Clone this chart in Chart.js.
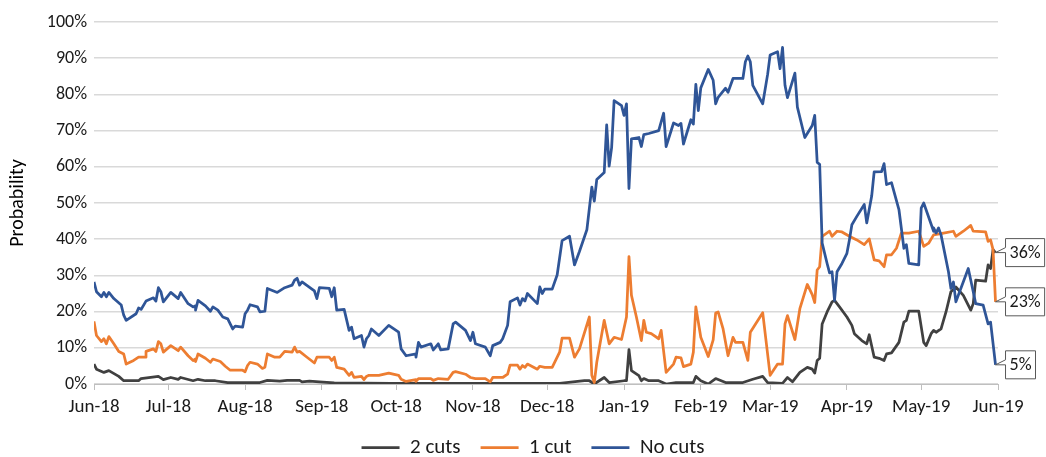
<!DOCTYPE html>
<html>
<head>
<meta charset="utf-8">
<script src="https://cdn.jsdelivr.net/npm/chart.js@4.4.1/dist/chart.umd.min.js"></script>
<style>
  html, body { margin: 0; padding: 0; background: #fff; }
  #wrap { width: 1046px; height: 457px; }
</style>
</head>
<body>
<div id="wrap"><canvas id="probChart"></canvas></div>
<script>
// x values are days counted from 1 Jun 2018
const monthDays = [0, 30, 61, 92, 122, 153, 183, 214, 245, 273, 304, 334, 365];
const monthLabels = ["Jun-18", "Jul-18", "Aug-18", "Sep-18", "Oct-18", "Nov-18", "Dec-18",
                     "Jan-19", "Feb-19", "Mar-19", "Apr-19", "May-19", "Jun-19"];
const yTicks = [0, 10, 20, 30, 40, 50, 60, 70, 80, 90, 100];

// 2 cuts
const twoCutsDays = [0, 1, 4, 6, 10, 12, 18, 19, 26, 28, 31, 34, 35, 40, 42, 45, 49, 54, 67, 70,
  75, 78, 83, 84, 87, 91, 97, 120, 150, 188, 198, 200, 202, 206, 208, 214, 215, 216, 217, 220,
  221, 222, 224, 228, 231, 235, 242, 243, 245, 248, 251, 255, 262, 266, 270, 272, 278, 280, 282, 285,
  288, 290, 291, 292, 293, 294, 296, 298, 299, 301, 304, 306, 307, 310, 312, 313, 315, 317, 319, 320,
  322, 325, 327, 328, 329, 333, 335, 336, 338, 339, 340, 342, 344, 346, 348, 351, 354, 355, 356, 360,
  361, 362, 363, 364];
const twoCutsValues = [5.5, 4.1, 3.2, 3.7, 2.1, 0.9, 0.9, 1.5, 2.1, 1.2, 1.8, 1.3, 1.8, 0.9, 1.3, 0.9, 0.9, 0.4, 0.4, 1.0,
  0.8, 1.0, 1.0, 0.6, 0.8, 0.6, 0.3, 0.2, 0.2, 0.2, 0.9, 0.9, 0.0, 1.8, 0.4, 0.9, 0.9, 9.5, 3.7, 2.3,
  0.9, 1.5, 0.9, 0.9, 0.0, 0.4, 0.4, 2.1, 0.9, 0.0, 1.5, 0.4, 0.4, 1.3, 2.1, 0.4, 0.2, 1.8, 0.6, 3.2,
  4.6, 4.1, 3.0, 6.5, 7.1, 16.6, 19.9, 22.7, 23.1, 21.3, 18.5, 16.2, 13.9, 12.0, 11.1, 13.6, 7.4, 7.1, 6.5, 8.3,
  8.6, 11.5, 17.1, 17.6, 20.1, 20.1, 11.5, 10.6, 13.9, 14.8, 14.3, 15.2, 19.9, 25.5, 26.8, 24.5, 20.4, 22.2, 28.7, 28.4,
  32.9, 31.9, 37.1, 36.3];

// 1 cut
const oneCutDays = [0, 1, 3, 4, 5, 6, 8, 10, 12, 13, 16, 18, 21, 21, 24, 25, 26, 27, 28, 31,
  34, 35, 38, 40, 41, 41, 42, 45, 47, 48, 51, 53, 55, 60, 61, 62, 63, 66, 68, 69,
  70, 73, 75, 77, 80, 81, 82, 83, 86, 89, 90, 95, 96, 97, 98, 101, 103, 104, 105, 108,
  109, 110, 111, 115, 119, 123, 124, 126, 130, 130, 131, 136, 137, 139, 143, 145, 146, 150, 152, 154,
  158, 160, 161, 165, 167, 168, 171, 172, 173, 174, 175, 179, 180, 182, 185, 188, 189, 192, 194, 196,
  200, 201, 202, 203, 206, 208, 210, 213, 215, 216, 217, 219, 221, 222, 223, 225, 228, 229, 231, 234,
  235, 237, 238, 241, 242, 243, 245, 248, 250, 251, 252, 254, 256, 258, 259, 262, 264, 265, 270, 273,
  276, 278, 279, 280, 283, 285, 288, 290, 291, 292, 293, 294, 297, 298, 300, 302, 305, 308, 311, 313,
  315, 317, 319, 320, 322, 324, 326, 329, 333, 335, 337, 339, 343, 347, 348, 351, 354, 355, 360, 361,
  362, 363, 364];
const oneCutValues = [17.3, 13.4, 11.7, 12.5, 11.1, 13.1, 11.1, 9.0, 8.3, 5.5, 6.5, 7.4, 7.4, 9.0, 9.7, 9.0, 11.7, 11.1, 8.8, 10.6,
  9.2, 10.2, 7.8, 6.5, 6.9, 6.2, 8.3, 7.1, 6.0, 6.9, 6.2, 4.9, 3.8, 3.8, 3.4, 5.1, 6.0, 5.5, 4.3, 4.6,
  8.3, 7.4, 7.4, 9.0, 8.8, 10.2, 8.8, 9.0, 7.4, 5.8, 7.4, 7.4, 6.5, 7.4, 4.6, 4.1, 2.4, 3.2, 1.8, 2.1,
  1.2, 2.1, 2.4, 2.4, 3.0, 2.4, 1.3, 0.7, 1.2, 0.7, 1.5, 1.5, 1.0, 1.5, 1.3, 3.2, 3.4, 2.7, 1.8, 1.5,
  1.5, 0.6, 1.8, 1.8, 2.7, 5.2, 5.2, 4.1, 5.1, 4.6, 5.5, 4.1, 4.9, 4.6, 4.6, 8.8, 12.7, 12.7, 7.4, 9.7,
  18.5, 2.4, 0.4, 6.0, 17.6, 11.1, 12.9, 12.3, 18.5, 35.2, 24.5, 18.5, 12.0, 17.6, 14.3, 13.9, 12.5, 14.8, 3.2, 5.5,
  7.4, 7.2, 4.8, 5.5, 8.8, 21.3, 12.9, 7.6, 12.2, 19.6, 19.9, 15.2, 7.8, 12.9, 11.5, 11.5, 6.5, 14.3, 19.7, 2.4,
  5.5, 5.5, 16.6, 18.9, 12.3, 20.8, 27.5, 24.7, 22.5, 31.5, 32.4, 40.8, 42.2, 40.8, 42.2, 42.0, 40.8, 39.8, 38.5, 40.1,
  34.3, 34.0, 32.4, 35.7, 35.7, 37.5, 41.7, 41.7, 42.2, 38.0, 38.9, 41.2, 41.7, 42.2, 40.8, 42.2, 43.8, 42.2, 42.0, 39.4,
  39.8, 37.1, 22.7];

// No cuts
const noCutsDays = [0, 1, 3, 4, 5, 6, 8, 11, 12, 13, 17, 18, 19, 21, 24, 25, 26, 27, 28, 31,
  34, 35, 38, 40, 41, 41, 42, 45, 47, 48, 50, 52, 54, 56, 57, 60, 61, 62, 63, 66,
  67, 69, 70, 74, 77, 80, 81, 82, 83, 84, 88, 89, 90, 91, 95, 96, 97, 98, 101, 103,
  104, 105, 108, 109, 110, 111, 112, 115, 119, 123, 124, 126, 130, 130, 131, 132, 136, 137, 139, 140,
  143, 145, 146, 150, 152, 153, 154, 158, 160, 161, 164, 165, 167, 168, 171, 172, 173, 174, 175, 179,
  180, 181, 182, 185, 187, 189, 192, 194, 196, 199, 201, 202, 203, 206, 207, 208, 209, 210, 213, 214,
  215, 216, 217, 220, 221, 222, 224, 228, 230, 231, 234, 236, 237, 238, 241, 242, 243, 244, 245, 248,
  250, 251, 252, 255, 256, 258, 262, 263, 264, 265, 266, 270, 272, 273, 276, 277, 278, 279, 280, 283,
  284, 287, 290, 291, 292, 293, 294, 296, 297, 298, 299, 300, 302, 304, 305, 306, 308, 311, 312, 314,
  315, 318, 319, 320, 322, 325, 327, 328, 329, 333, 334, 335, 339, 339, 340, 341, 342, 345, 346, 347,
  348, 353, 355, 356, 359, 361, 362, 364];
const noCutsValues = [28.2, 25.5, 24.1, 25.3, 24.1, 25.3, 23.6, 21.8, 19.0, 17.6, 19.4, 21.0, 20.6, 22.9, 23.8, 22.9, 26.6, 25.5, 22.7, 25.3,
  23.6, 25.3, 22.2, 21.3, 21.6, 20.4, 23.1, 21.6, 20.1, 21.3, 20.4, 18.5, 18.0, 15.2, 16.0, 15.7, 19.4, 20.4, 21.9, 21.3,
  19.9, 20.1, 26.4, 25.3, 26.6, 27.3, 28.7, 29.2, 27.3, 28.2, 26.2, 25.7, 23.6, 26.6, 26.4, 24.1, 26.6, 20.4, 20.6, 14.8,
  15.7, 12.5, 13.4, 10.2, 12.5, 13.4, 15.2, 13.4, 16.2, 14.3, 9.7, 7.8, 8.3, 7.4, 11.5, 10.2, 11.1, 9.4, 11.1, 9.4,
  9.7, 16.6, 17.1, 14.8, 12.0, 14.3, 11.1, 10.2, 7.8, 10.6, 11.5, 12.5, 16.2, 22.7, 23.8, 21.8, 23.6, 22.9, 25.0, 22.2,
  26.8, 25.0, 26.2, 26.2, 30.1, 39.6, 40.8, 32.9, 36.6, 42.6, 54.4, 50.5, 56.5, 58.4, 71.6, 60.2, 65.3, 78.3, 76.9, 74.2,
  77.4, 54.0, 67.7, 68.1, 65.6, 68.9, 69.2, 70.0, 74.8, 65.6, 72.1, 71.4, 72.0, 66.3, 73.0, 71.8, 82.8, 75.5, 81.8, 86.9,
  83.9, 77.4, 79.2, 81.7, 80.6, 84.4, 84.4, 89.0, 90.6, 89.0, 82.5, 77.4, 85.6, 90.9, 91.8, 87.1, 93.0, 82.5, 79.1, 85.9,
  76.5, 68.1, 71.4, 74.2, 61.2, 60.7, 38.9, 33.3, 30.7, 31.0, 23.1, 31.0, 33.3, 36.1, 39.8, 44.0, 46.3, 49.6, 44.5, 51.9,
  58.6, 58.7, 60.9, 55.1, 55.6, 48.2, 37.5, 38.5, 33.3, 32.9, 48.6, 50.0, 42.2, 43.1, 41.7, 43.1, 41.2, 31.0, 26.4, 28.2,
  22.7, 31.9, 25.5, 22.2, 21.8, 16.6, 17.1, 5.3];

const textFont = "Carlito, Lato, sans-serif";
const textColor = "#1a1a1a";

function toPoints(days, values) {
    return days.map((d, i) => ({ x: d, y: values[i] }));
}

// Callout boxes showing the last value of each line
const endLabels = {
    id: 'endLabels',
    afterDatasetsDraw(chart) {
        const ctx = chart.ctx;
        ctx.save();
        ctx.font = "18px " + textFont;
        chart.data.datasets.forEach((ds, i) => {
            const meta = chart.getDatasetMeta(i);
            const pt = meta.data[meta.data.length - 1];
            const last = ds.data[ds.data.length - 1].y;
            const text = Math.round(last) + "%";
            const w = ctx.measureText(text).width + 8;
            const h = 28;
            const left = pt.x + 10;
            const top = pt.y - h / 2;
            ctx.beginPath();
            ctx.moveTo(left, top);
            ctx.lineTo(left + w, top);
            ctx.lineTo(left + w, top + h);
            ctx.lineTo(left, top + h);
            ctx.lineTo(left, pt.y);
            ctx.lineTo(pt.x, pt.y);
            ctx.lineTo(left, pt.y - 5);
            ctx.closePath();
            ctx.fillStyle = "#fff";
            ctx.fill();
            ctx.strokeStyle = "#595959";
            ctx.lineWidth = 1;
            ctx.stroke();
            ctx.fillStyle = textColor;
            ctx.textBaseline = "middle";
            ctx.textAlign = "left";
            ctx.fillText(text, left + 4, pt.y + 1);
        });
        ctx.restore();
    }
};

// The legend sits a little right of the plot centre, as in the original
const legendShift = {
    id: 'legendShift',
    afterLayout(chart) {
        chart.legend.left += 34;
        chart.legend.right += 34;
    }
};

const lineCtx = document.getElementById('probChart').getContext('2d');
const probChart = new Chart(lineCtx, {
    type: 'line',
    data: {
        datasets: [
            {
                label: "2 cuts",
                data: toPoints(twoCutsDays, twoCutsValues),
                borderColor: "#404040",
                backgroundColor: "#404040",
                borderWidth: 2.75,
                order: 3
            },
            {
                label: "1 cut",
                data: toPoints(oneCutDays, oneCutValues),
                borderColor: "#ED7D31",
                backgroundColor: "#ED7D31",
                borderWidth: 2.75,
                order: 2
            },
            {
                label: "No cuts",
                data: toPoints(noCutsDays, noCutsValues),
                borderColor: "#2F5597",
                backgroundColor: "#2F5597",
                borderWidth: 2.75,
                order: 1
            }
        ]
    },
    options: {
        responsive: true,
        maintainAspectRatio: false,
        animation: false,
        elements: {
            line: { tension: 0, borderJoinStyle: 'round' },
            point: { radius: 0 }
        },
        layout: { padding: { top: 22, right: 48, left: 0, bottom: -11 } },
        plugins: {
            tooltip: { enabled: false },
            legend: {
                position: 'bottom',
                reverse: true,
                labels: {
                    usePointStyle: true,
                    pointStyleWidth: 38,
                    pointStyle: 'line',
                    padding: 20,
                    color: textColor,
                    font: { family: textFont, size: 21 }
                }
            }
        },
        scales: {
            x: {
                type: 'linear',
                min: monthDays[0],
                max: monthDays[monthDays.length - 1],
                afterBuildTicks: axis => { axis.ticks = monthDays.map(v => ({ value: v })); },
                afterFit: axis => { axis.height = 33; },
                ticks: {
                    autoSkip: false,
                    maxRotation: 0,
                    padding: 6,
                    color: textColor,
                    font: { family: textFont, size: 19 },
                    callback: value => monthLabels[monthDays.indexOf(value)]
                },
                grid: { drawOnChartArea: false, drawTicks: true, tickLength: 6, color: "#BFBFBF" },
                border: { display: true, color: "#BFBFBF", width: 1 }
            },
            y: {
                min: 0,
                max: 100,
                afterBuildTicks: axis => { axis.ticks = yTicks.map(v => ({ value: v })); },
                afterFit: axis => { axis.width = 94; },
                ticks: {
                    padding: 7,
                    color: textColor,
                    font: { family: textFont, size: 18 },
                    callback: value => value + "%"
                },
                grid: { color: "#D9D9D9", lineWidth: 1.5, drawTicks: false },
                border: { display: false },
                title: {
                    display: true,
                    text: "Probability",
                    color: "#000",
                    padding: { top: 6, bottom: 0 },
                    font: { family: textFont, size: 20 }
                }
            }
        }
    },
    plugins: [endLabels, legendShift]
});
</script>
</body>
</html>
